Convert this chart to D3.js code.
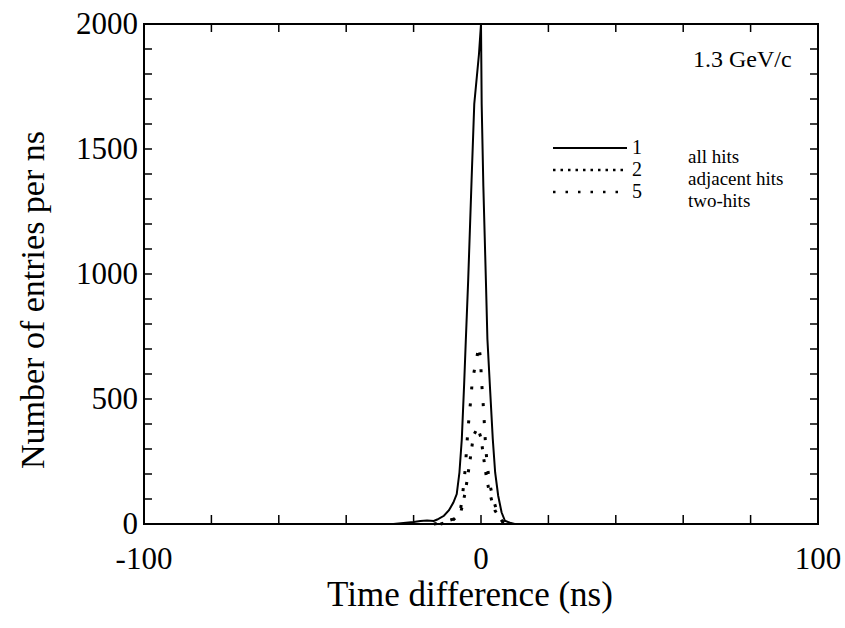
<!DOCTYPE html>
<html>
<head>
<meta charset="utf-8">
<script src="https://cdn.jsdelivr.net/npm/d3@7"></script>
<style>
  body { margin: 0; background: #fff; }
  text { font-family: "Liberation Serif", "Times New Roman", serif; fill: #000; }
</style>
</head>
<body>
<div id="chart"></div>
<script>

// all hits (1)
let timeAll = [-26, -23, -20, -18, -16, -14, -13, -11, -9.5, -8.2, -7.2, -6.4, -5.7, -5.0, -4.5, -3.8, -3.3, -2.8, -2.0, -0.6, 0,
               0.2, 0.7, 1.1, 1.5, 1.9, 2.7, 3.5, 4.2, 5.1, 6.1, 7.1, 8.6, 10];
let countAll = [0, 4, 8, 12, 14, 12, 18, 33, 55, 86, 120, 206, 339, 560, 737, 976, 1175, 1374, 1680, 1880, 2000,
                1680, 1350, 1150, 950, 740, 538, 339, 206, 113, 47, 13, 5, 0];

// adjacent hits (2)
let timeAdj = [-14, -10.7, -8.2, -6.25, -5.7, -5.1, -4.6, -4.3, -3.9, -3.5, -3.0, -2.6, -1.6, -0.6,
               -0.1, 0.1, 0.5, 0.8, 1.4, 1.9, 2.5, 3.5, 4.5, 5.4, 6.5, 8];
let countAdj = [0, 9, 20, 47, 89, 163, 230, 299, 372, 434, 501, 571, 641, 713,
                655, 581, 511, 447, 305, 232, 166, 106, 60, 27, 7, 0];

// two-hits (5)
let timeTwo = [-12, -8.5, -6.0, -5.3, -4.6, -4.0, -3.5, -3.0, -2.6, -2.3, -1.0,
               -0.1, 0.3, 0.7, 1.2, 1.7, 2.4, 3.2, 4.2, 5.4, 6.1, 7.5];
let countTwo = [0, 13, 47, 86, 133, 186, 232, 279, 319, 352, 385,
                349, 315, 272, 226, 179, 133, 93, 53, 27, 13, 0];

let xTickLabels = [-100, 0, 100];
let yTickLabels = [0, 500, 1000, 1500, 2000];
let legendNumbers = ["1", "2", "5"];
let legendNames = ["all hits", "adjacent hits", "two-hits"];
let momentumLabel = "1.3 GeV/c";

let width = 845, height = 628;
let margin = {top: 24, right: 27, bottom: 104, left: 144};

let svg = d3.select("#chart").append("svg")
    .attr("width", width)
    .attr("height", height);

let x = d3.scaleLinear().domain([-100, 100]).range([margin.left, width - margin.right]);
let y = d3.scaleLinear().domain([0, 2000]).range([height - margin.bottom, margin.top]);

// ticks on all four sides, pointing inward
let g = svg.append("g");
let xMinor = d3.range(-80, 100, 20);
let yMinor = d3.range(100, 2000, 100);

g.selectAll(".xt-bottom").data(xMinor).enter().append("line")
    .attr("x1", d => x(d)).attr("x2", d => x(d))
    .attr("y1", y(0)).attr("y2", y(0) - 9)
    .attr("stroke", "#000").attr("stroke-width", 1.5);
g.selectAll(".xt-top").data(xMinor).enter().append("line")
    .attr("x1", d => x(d)).attr("x2", d => x(d))
    .attr("y1", y(2000)).attr("y2", y(2000) + 8)
    .attr("stroke", "#000").attr("stroke-width", 1.5);
g.selectAll(".yt-left").data(yMinor).enter().append("line")
    .attr("x1", x(-100)).attr("x2", x(-100) + 8)
    .attr("y1", d => y(d)).attr("y2", d => y(d))
    .attr("stroke", "#000").attr("stroke-width", 1.5);
g.selectAll(".yt-right").data(yMinor).enter().append("line")
    .attr("x1", x(100)).attr("x2", x(100) - 8)
    .attr("y1", d => y(d)).attr("y2", d => y(d))
    .attr("stroke", "#000").attr("stroke-width", 1.5);

// frame
svg.append("rect")
    .attr("x", x(-100)).attr("y", y(2000))
    .attr("width", x(100) - x(-100)).attr("height", y(0) - y(2000))
    .attr("fill", "none").attr("stroke", "#000").attr("stroke-width", 2);

// tick labels
svg.selectAll(".xlab").data(xTickLabels).enter().append("text")
    .attr("x", d => x(d)).attr("y", 569)
    .attr("text-anchor", "middle")
    .style("font-size", "31px")
    .text(d => d);
svg.selectAll(".ylab").data(yTickLabels).enter().append("text")
    .attr("x", 138).attr("y", d => y(d) + 10)
    .attr("text-anchor", "end")
    .style("font-size", "31px")
    .text(d => d);

// axis titles
svg.append("text")
    .attr("x", 470).attr("y", 606)
    .attr("text-anchor", "middle")
    .style("font-size", "35px")
    .text("Time difference (ns)");
svg.append("text")
    .attr("transform", "translate(44, 300) rotate(-90)")
    .attr("text-anchor", "middle")
    .style("font-size", "34px")
    .text("Number of entries per ns");

// curves
let line = d3.line().x(d => x(d[0])).y(d => y(d[1]));
let series = [
    {t: timeAll, c: countAll, dash: null, width: 2},
    {t: timeAdj, c: countAdj, dash: "3,14", width: 3},
    {t: timeTwo, c: countTwo, dash: "3,10", width: 3}
];
series.forEach(s => {
    svg.append("path")
        .datum(d3.zip(s.t, s.c))
        .attr("d", line)
        .attr("fill", "none")
        .attr("stroke", "#000")
        .attr("stroke-width", s.width)
        .attr("stroke-dasharray", s.dash);
});

// momentum label
svg.append("text")
    .attr("x", 693).attr("y", 67)
    .style("font-size", "24px")
    .text(momentumLabel);

// legend
let legendDash = [null, "2.5,5", "2.5,10"];
let leg = svg.append("g");
legendNumbers.forEach((n, i) => {
    let ly = 148 + i * 22;
    leg.append("line")
        .attr("x1", 553).attr("x2", 627)
        .attr("y1", ly).attr("y2", ly)
        .attr("stroke", "#000").attr("stroke-width", legendDash[i] ? 2.5 : 2)
        .attr("stroke-dasharray", legendDash[i]);
    leg.append("text")
        .attr("x", 632).attr("y", ly + 6)
        .style("font-size", "20px")
        .text(n);
    leg.append("text")
        .attr("x", 688).attr("y", ly + 15)
        .style("font-size", "19px")
        .text(legendNames[i]);
});

</script>
</body>
</html>
